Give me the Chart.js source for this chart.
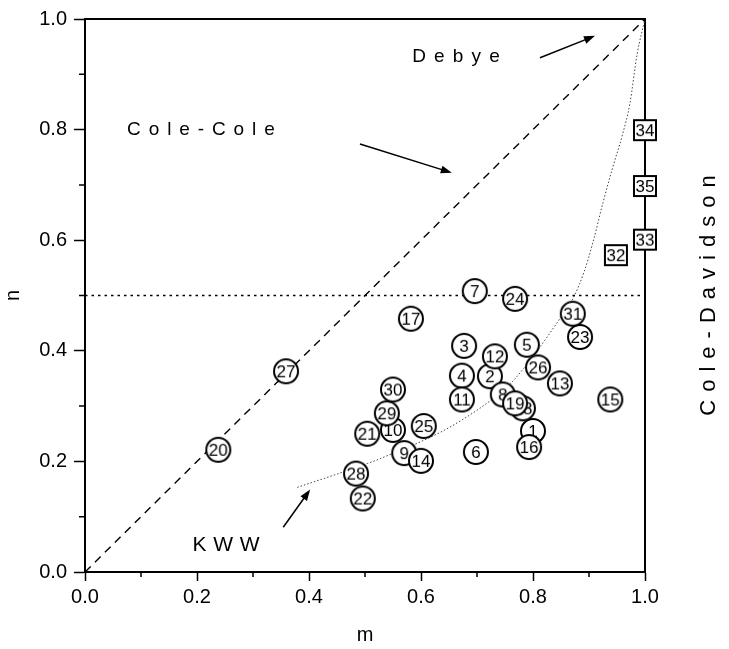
<!DOCTYPE html>
<html>
<head>
<meta charset="utf-8">
<script src="https://cdn.jsdelivr.net/npm/chart.js@4.4.0/dist/chart.umd.min.js"></script>
<style>
  html, body { margin: 0; padding: 0; background: #fff; }
  canvas { display: block; }
</style>
</head>
<body>
<canvas id="chart" width="729" height="649"></canvas>
<script>
// ---- data ----
const circleIds = ['1','2','3','4','5','6','7','8','9','10','11','12','13','14','15','16',
                   '17','18','19','20','21','22','23','24','25','26','27','28','29','30','31'];
const circleM = [0.800, 0.723, 0.677, 0.673, 0.789, 0.698, 0.696, 0.746, 0.570, 0.550, 0.673,
                 0.732, 0.848, 0.600, 0.938, 0.793, 0.582, 0.782, 0.768, 0.238, 0.504, 0.496,
                 0.884, 0.768, 0.605, 0.809, 0.359, 0.484, 0.539, 0.550, 0.871];
const circleN = [0.255, 0.354, 0.409, 0.355, 0.411, 0.217, 0.508, 0.321, 0.215, 0.257, 0.312,
                 0.390, 0.341, 0.201, 0.312, 0.226, 0.458, 0.296, 0.305, 0.221, 0.250, 0.133,
                 0.425, 0.494, 0.264, 0.370, 0.363, 0.178, 0.287, 0.330, 0.467];

const squareIds = ['32', '33', '35', '34'];
const squareM = [0.948, 1.0, 1.0, 1.0];
const squareN = [0.573, 0.601, 0.698, 0.799];

const diagM = [0, 1];          // Cole-Cole / Debye line
const diagN = [0, 1];
const halfM = [0, 1];          // n = 0.5
const halfN = [0.5, 0.5];
const kwwM = [0.379, 0.504, 0.527, 0.639, 0.705, 0.729, 0.764, 0.848, 0.871, 0.891, 0.907,
              0.925, 0.941, 0.959, 0.973, 0.986, 1.0];
const kwwN = [0.153, 0.196, 0.205, 0.255, 0.296, 0.314, 0.345, 0.458, 0.494, 0.542, 0.596,
              0.668, 0.727, 0.788, 0.847, 0.937, 1.0];

const minorTicks = [0.1, 0.3, 0.5, 0.7, 0.9];

// annotation labels (data coords) and arrows [m0, n0, m1, n1]
const noteText = ['Debye', 'Cole-Cole', 'KWW'];
const noteM = [0.6625, 0.207, 0.252];
const noteN = [0.932, 0.799, 0.048];
const arrows = [
  [0.8125, 0.930, 0.9107, 0.9695],
  [0.491, 0.774, 0.655, 0.722],
  [0.354, 0.081, 0.402, 0.149]
];

const FONT = '"Liberation Sans", Arial, Helvetica, sans-serif';

function toPts(xs, ys) { return xs.map((x, i) => ({ x: x, y: ys[i] })); }

// marker images: circle / box with the sample number inside
function makeMarker(label, square) {
  const c = document.createElement('canvas');
  c.width = 30; c.height = 30;
  const g = c.getContext('2d');
  g.lineWidth = 2;
  g.strokeStyle = '#000';
  g.fillStyle = '#fff';
  g.beginPath();
  if (square) g.rect(4, 5, 22, 20);
  else g.arc(15, 15, 12, 0, Math.PI * 2);
  g.fill();
  g.stroke();
  g.fillStyle = '#000';
  g.font = '17px ' + FONT;
  g.textAlign = 'center';
  g.textBaseline = 'middle';
  g.fillText(label, 15, 16);
  return c;
}

function spacedText(ctx, text, cx, cy, spacing) {
  const widths = [...text].map(ch => ctx.measureText(ch).width);
  const total = widths.reduce((a, b) => a + b, 0) + spacing * (text.length - 1);
  let x = cx - total / 2;
  ctx.textAlign = 'left';
  ctx.textBaseline = 'middle';
  [...text].forEach((ch, i) => { ctx.fillText(ch, x, cy); x += widths[i] + spacing; });
}

function drawArrow(ctx, x0, y0, x1, y1) {
  const a = Math.atan2(y1 - y0, x1 - x0);
  const L = 11, W = 4;
  ctx.beginPath();
  ctx.moveTo(x0, y0);
  ctx.lineTo(x1 - L * 0.8 * Math.cos(a), y1 - L * 0.8 * Math.sin(a));
  ctx.stroke();
  ctx.beginPath();
  ctx.moveTo(x1, y1);
  ctx.lineTo(x1 - L * Math.cos(a) + W * Math.sin(a), y1 - L * Math.sin(a) - W * Math.cos(a));
  ctx.lineTo(x1 - L * Math.cos(a) - W * Math.sin(a), y1 - L * Math.sin(a) + W * Math.cos(a));
  ctx.closePath();
  ctx.fill();
}

const framePlugin = {
  id: 'frame',
  beforeDatasetsDraw(chart) {
    const { ctx, chartArea: a, scales } = chart;
    ctx.save();
    ctx.strokeStyle = '#000';
    ctx.lineWidth = 2;
    ctx.beginPath();
    ctx.moveTo(a.left, a.top);
    ctx.lineTo(a.right, a.top);
    ctx.lineTo(a.right, a.bottom);
    ctx.stroke();
    // minor ticks
    ctx.lineWidth = 1.5;
    ctx.beginPath();
    minorTicks.forEach(v => {
      const px = scales.x.getPixelForValue(v);
      ctx.moveTo(px, a.bottom); ctx.lineTo(px, a.bottom + 5);
      const py = scales.y.getPixelForValue(v);
      ctx.moveTo(a.left, py); ctx.lineTo(a.left - 6, py);
    });
    ctx.stroke();
    ctx.restore();
  },
  afterDatasetsDraw(chart) {
    const { ctx, chartArea: a, scales } = chart;
    const sx = scales.x, sy = scales.y;
    ctx.save();
    ctx.fillStyle = '#000';
    ctx.strokeStyle = '#000';
    ctx.lineWidth = 1.5;
    const sizes = [19, 19, 21];
    const gaps = [8.2, 7.9, 6.7];
    noteText.forEach((t, i) => {
      ctx.font = sizes[i] + 'px ' + FONT;
      spacedText(ctx, t, sx.getPixelForValue(noteM[i]), sy.getPixelForValue(noteN[i]), gaps[i]);
    });
    arrows.forEach(r => drawArrow(ctx,
      sx.getPixelForValue(r[0]), sy.getPixelForValue(r[1]),
      sx.getPixelForValue(r[2]), sy.getPixelForValue(r[3])));
    // right-hand vertical label
    ctx.font = '22px ' + FONT;
    ctx.translate(a.right + 64, (a.top + a.bottom) / 2);
    ctx.rotate(-Math.PI / 2);
    spacedText(ctx, 'Cole-Davidson', 0, 0, 8);
    ctx.restore();
  }
};

const axisFont = { family: FONT, size: 20 };

new Chart(document.getElementById('chart'), {
  type: 'scatter',
  data: {
    datasets: [
      {
        data: toPts(circleM, circleN),
        pointStyle: circleIds.map(id => makeMarker(id, false)),
        pointRadius: 12,
        clip: false,
        order: 1
      },
      {
        data: toPts(squareM, squareN),
        pointStyle: squareIds.map(id => makeMarker(id, true)),
        pointRadius: 12,
        clip: false,
        order: 0
      },
      {
        data: toPts(diagM, diagN),
        showLine: true, pointRadius: 0,
        borderColor: '#000', borderWidth: 1.4, borderDash: [8, 6],
        order: 5
      },
      {
        data: toPts(halfM, halfN),
        showLine: true, pointRadius: 0,
        borderColor: '#000', borderWidth: 1.4, borderDash: [2.5, 4],
        order: 5
      },
      {
        data: toPts(kwwM, kwwN),
        showLine: true, pointRadius: 0,
        borderColor: '#444', borderWidth: 1, borderDash: [1.5, 2],
        cubicInterpolationMode: 'monotone',
        order: 5
      }
    ]
  },
  options: {
    responsive: false,
    animation: false,
    events: [],
    layout: { padding: { top: 12, right: 84, left: 0, bottom: 0 } },
    plugins: { legend: { display: false }, tooltip: { enabled: false } },
    scales: {
      x: {
        type: 'linear', position: 'bottom', min: 0, max: 1,
        afterFit: s => { s.height = 77; },
        ticks: { stepSize: 0.2, color: '#000', font: axisFont, padding: 4,
                 callback: v => v.toFixed(1) },
        grid: { drawOnChartArea: false, tickLength: 9, tickWidth: 1.5, tickColor: '#000' },
        border: { color: '#000', width: 2 },
        title: { display: true, text: 'm', color: '#000', font: axisFont, padding: { top: 0, bottom: 2 } }
      },
      y: {
        type: 'linear', position: 'left', min: 0, max: 1,
        afterFit: s => { s.width = 85; },
        ticks: { stepSize: 0.2, color: '#000', font: axisFont, padding: 7,
                 callback: v => v.toFixed(1) },
        grid: { drawOnChartArea: false, tickLength: 11, tickWidth: 1.5, tickColor: '#000' },
        border: { color: '#000', width: 2 },
        title: { display: true, text: 'n', color: '#000', font: axisFont, padding: { top: 1, bottom: 0 } }
      }
    }
  },
  plugins: [framePlugin]
});
</script>
</body>
</html>
